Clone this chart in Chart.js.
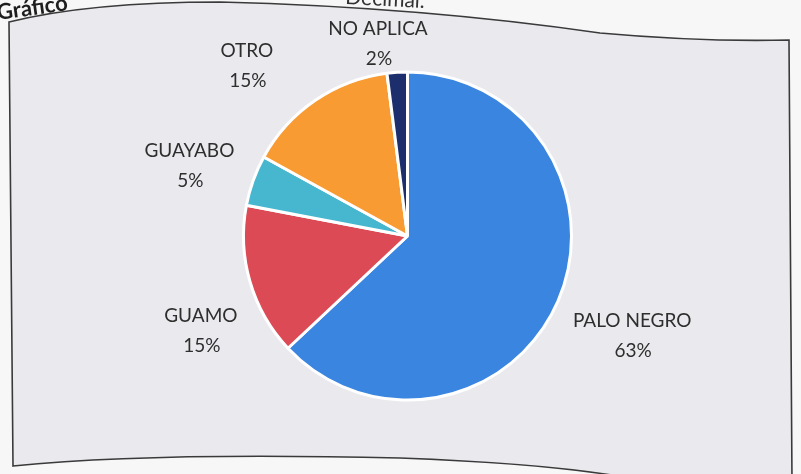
<!DOCTYPE html>
<html>
<head>
<meta charset="utf-8">
<script src="https://cdn.jsdelivr.net/npm/chart.js@4.4.1/dist/chart.umd.min.js"></script>
<style>
  html, body { margin: 0; padding: 0; background: #f7f7f8; }
  #wrap { position: relative; width: 801px; height: 474px; }
</style>
</head>
<body>
<div id="wrap"><canvas id="pie" width="801" height="474"></canvas></div>
<script>
// data
const categories = ["PALO NEGRO", "GUAMO", "GUAYABO", "OTRO", "NO APLICA"];
const percentages = [63, 15, 5, 15, 2];
const sliceColors = ["#3a85df", "#db4a55", "#47b6cf", "#f89b32", "#1c2e6c"];

// where each label block sits, in units of the pie radius from its centre
const labelOffsets = [
  [1.37, 0.61],
  [-1.26, 0.58],
  [-1.33, -0.43],
  [-0.98, -1.04],
  [-0.18, -1.17],
];

// page / frame behind the chart
const paperPlugin = {
  id: "paper",
  beforeDraw(chart) {
    const ctx = chart.ctx;
    ctx.save();
    ctx.fillStyle = "#f7f7f8";
    ctx.fillRect(0, 0, chart.width, chart.height);

    // caption of the page, mostly cut off at the top
    ctx.fillStyle = "#1e1e1e";
    ctx.font = "bold 22px Lato, sans-serif";
    ctx.save();
    ctx.translate(-2, 20);
    ctx.rotate(-0.14);
    ctx.fillText("Gráfico", 0, 0);
    ctx.restore();
    ctx.font = "21px Lato, sans-serif";
    ctx.fillStyle = "#333";
    ctx.save();
    ctx.translate(345, 4);
    ctx.rotate(0.05);
    ctx.fillText("Decimal.", 0, 0);
    ctx.restore();

    // the bent frame
    ctx.beginPath();
    ctx.moveTo(9, 22);
    ctx.quadraticCurveTo(90, 2, 220, 2);
    ctx.quadraticCurveTo(420, 7, 600, 33);
    ctx.quadraticCurveTo(700, 42, 789, 40);
    ctx.lineTo(792, 480);
    ctx.lineTo(640, 480);
    ctx.quadraticCurveTo(560, 464, 400, 458);
    ctx.quadraticCurveTo(150, 452, 13, 466);
    ctx.closePath();
    ctx.fillStyle = "#eae9ee";
    ctx.fill();
    ctx.strokeStyle = "#3a3a3a";
    ctx.lineWidth = 1.6;
    ctx.stroke();
    ctx.restore();
  }
};

// two-line labels: category name and percentage
const labelPlugin = {
  id: "outLabels",
  afterDatasetsDraw(chart, args, opts) {
    const ctx = chart.ctx;
    const arcs = chart.getDatasetMeta(0).data;
    ctx.save();
    ctx.fillStyle = "#2e2e2e";
    ctx.font = "19px Lato, sans-serif";
    ctx.textAlign = "center";
    ctx.textBaseline = "middle";
    arcs.forEach((arc, i) => {
      const r = arc.outerRadius;
      const [ox, oy] = opts.offsets[i];
      const x = arc.x + ox * r;
      const y = arc.y + oy * r;
      ctx.fillText(categories[i], x, y - 15);
      ctx.fillText(percentages[i] + "%", x + 1, y + 15);
    });
    ctx.restore();
  }
};

new Chart(document.getElementById("pie"), {
  type: "pie",
  data: {
    labels: categories,
    datasets: [{
      data: percentages,
      backgroundColor: sliceColors,
      borderColor: "#ffffff",
      borderWidth: 3,
    }],
  },
  options: {
    responsive: false,
    animation: false,
    layout: {
      padding: { left: 242, right: 228, top: 70, bottom: 72 },
    },
    plugins: {
      legend: { display: false },
      tooltip: { enabled: false },
      outLabels: { offsets: labelOffsets },
    },
  },
  plugins: [paperPlugin, labelPlugin],
});
</script>
</body>
</html>
